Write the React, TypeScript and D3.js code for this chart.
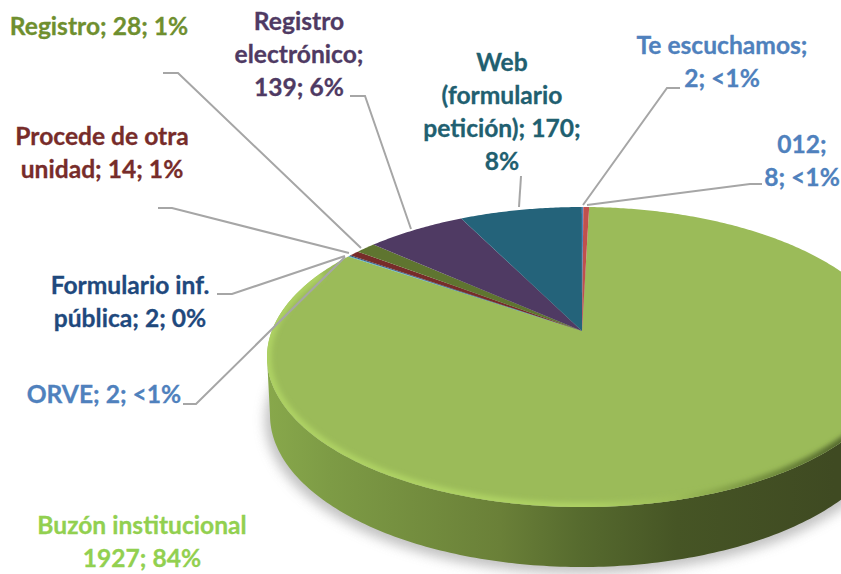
import React from 'react';
import * as d3 from 'd3';

const categories = ['Buzón institucional', 'ORVE', 'Formulario inf. pública', 'Procede de otra unidad', 'Registro', 'Registro electrónico', 'Web (formulario petición)', 'Te escuchamos', '012'];
const values = [1927, 2, 2, 14, 28, 139, 170, 2, 8];
const sliceColors = ['#9bbb59', '#4bacc6', '#2c4d75', '#772c2a', '#5f7530', '#4f3a63', '#24637a', '#4f81bd', '#c0504d'];
const labelColors = ['#92d050', '#4f81bd', '#1f497d', '#772c2a', '#6f8f2f', '#4f3a63', '#215f70', '#4f81bd', '#4f81bd'];
const labelLines = [
  ['Buzón institucional', '1927; 84%'],
  ['ORVE; 2; <1%'],
  ['Formulario inf.', 'pública; 2; 0%'],
  ['Procede de otra', 'unidad; 14; 1%'],
  ['Registro; 28; 1%'],
  ['Registro', 'electrónico;', '139; 6%'],
  ['Web', '(formulario', 'petición); 170;', '8%'],
  ['Te escuchamos;', '2; <1%'],
  ['012;', '8; <1%'],
];

// label centre x and first baseline
const labelPos = [[142, 534], [104, 403], [130, 294], [102, 145], [99, 35], [299, 30], [502, 71], [722, 54], [802, 153]];
const leaders = [
  null,
  [[183, 404], [196, 404], [345, 257]],
  [[217, 294], [232, 294], [345, 256]],
  [[158, 208], [172, 208], [349, 253]],
  [[163, 73], [178, 73], [361, 248]],
  [[350, 96], [365, 96], [411, 229]],
  [[521, 176], [519, 207]],
  [[680, 88], [667, 88], [583, 205]],
  [[762, 184], [750, 184], [587, 205]],
];

const cx = 582;
const cy = 357;
const rx = 315;
const ry = 150;
const apexY = 331;
const k = (apexY - cy) / ry;
const startDeg = 1.55;
const lineH = 33;

// perspective: a flat circle is projected so its centre lands on the apex
const rim = (a: number): [number, number] => {
  const u = Math.sin(a);
  const v = -Math.cos(a);
  const d = 1 + k * v;
  return [cx + (rx * u * Math.sqrt(1 - k * k)) / d, cy + (ry * (v + k)) / d];
};
const ell = (a: number, y0: number, rX: number, rY: number): [number, number] => [cx + rX * Math.sin(a), y0 - rY * Math.cos(a)];
const line = d3.line();
const rad = (deg: number) => (deg * Math.PI) / 180;

const start = rad(startDeg);
const arcs = d3.pie<number>().sort(null).startAngle(start).endAngle(start + 2 * Math.PI)(values);

const slicePath = (a0: number, a1: number) => {
  const n = Math.max(2, Math.ceil((a1 - a0) / 0.01));
  const pts = d3.range(n + 1).map((i) => rim(a0 + ((a1 - a0) * i) / n));
  return line([[cx, apexY], ...pts]) + 'Z';
};

const sideBottom = { y: 415, rx: 312, ry: 152 };
const halfTop = d3.range(90, 270.5, 1).map((d) => ell(rad(d), cy, rx, ry));
const halfBottom = d3.range(270, 89.5, -1).map((d) => ell(rad(d), sideBottom.y, sideBottom.rx, sideBottom.ry));
const sidePath = line([...halfTop, ...halfBottom]) + 'Z';
const facePath = line(d3.range(0, 360, 1).map((d) => ell(rad(d), cy, rx, ry))) + 'Z';
const bevelPath = line(d3.range(60, 305, 1).map((d) => ell(rad(d), cy, rx, ry)));

const sideStops = [[0, '#88a84b'], [0.1, '#7d9b45'], [0.37, '#6a8038'], [0.5, '#566a2e'], [0.65, '#465525'], [0.9, '#3f4a22']];
const bevelStops = [[0, '#aed263'], [0.5, '#aed263'], [0.65, '#9dbd58'], [0.8, '#6f8a3c'], [0.9, '#55692e']];

export default function App() {
  return (
    <svg width={841} height={574} style={{ position: 'absolute', left: 0, top: 0, background: '#fff' }}>
      <defs>
        <linearGradient id="side" gradientUnits="userSpaceOnUse" x1={267} x2={897} y1={0} y2={0}>
          {sideStops.map(([o, c]) => <stop key={o} offset={o} stopColor={c as string} />)}
        </linearGradient>
        <linearGradient id="bevel" gradientUnits="userSpaceOnUse" x1={267} x2={897} y1={0} y2={0}>
          {bevelStops.map(([o, c]) => <stop key={o} offset={o} stopColor={c as string} />)}
        </linearGradient>
        <filter id="blur8" x="-10%" y="-10%" width="120%" height="120%"><feGaussianBlur stdDeviation={6} /></filter>
        <filter id="blur2" x="-10%" y="-10%" width="120%" height="120%"><feGaussianBlur stdDeviation={2.5} /></filter>
        <clipPath id="faceClip"><path d={facePath} /></clipPath>
      </defs>

      <ellipse cx={cx} cy={sideBottom.y + 5} rx={sideBottom.rx + 5} ry={sideBottom.ry + 2} fill="#a8a8a8" opacity={0.7} filter="url(#blur8)" />
      <path d={sidePath} fill="url(#side)" />

      {arcs.map((a, i) => (
        <path key={categories[i]} d={slicePath(a.startAngle, a.endAngle)} fill={sliceColors[i]} />
      ))}

      <g clipPath="url(#faceClip)">
        <path d={bevelPath as string} fill="none" stroke="url(#bevel)" strokeWidth={9} filter="url(#blur2)" />
      </g>

      {leaders.map((pts, i) => pts && (
        <path key={i} d={line(pts as [number, number][]) as string} fill="none" stroke="#a6a6a6" strokeWidth={2} />
      ))}

      {labelLines.map((lines, i) => (
        <text key={categories[i]} textAnchor="middle" fontFamily="Lato" fontWeight={700} fontSize={24.6} fill={labelColors[i]} stroke={labelColors[i]} strokeWidth={0.3}>
          {lines.map((t, j) => (
            <tspan key={j} x={labelPos[i][0]} y={labelPos[i][1] + j * lineH}>{t}</tspan>
          ))}
        </text>
      ))}
    </svg>
  );
}
